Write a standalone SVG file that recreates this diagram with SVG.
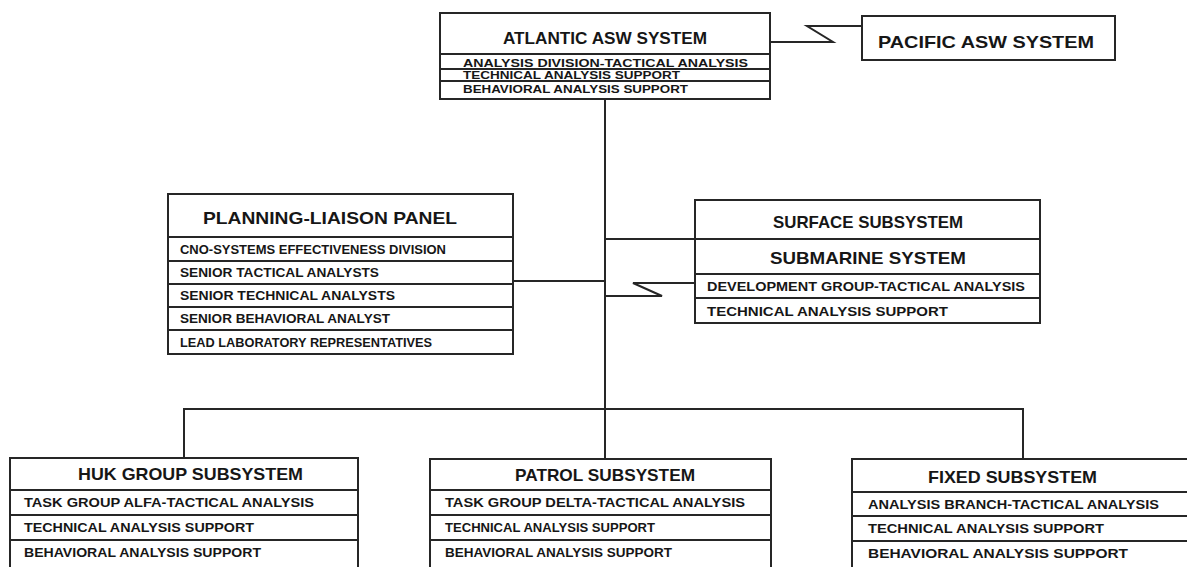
<svg xmlns="http://www.w3.org/2000/svg" width="1187" height="567" viewBox="0 0 1187 567">
  <style>
    .bg { fill: #ffffff; }
    .box { fill: none; stroke: #262626; stroke-width: 2; }
    .div { stroke: #262626; stroke-width: 2; }
    .wire { fill: none; stroke: #262626; stroke-width: 2; stroke-linejoin: miter; }
    .t { font-family: "Liberation Sans", Arial, sans-serif; font-weight: bold; fill: #161616; }
    .title { font-size: 17px; }
    .row { font-size: 12.5px; }
    .row-sm { font-size: 11.5px; }
  </style>

  <rect class="bg" x="0" y="0" width="1187" height="567"/>

  <!-- connectors -->
  <g id="connectors">
    <!-- Atlantic to Pacific, broken (lightning) link -->
    <polyline class="wire" points="770,42 833,42 807,26 862,26"/>
    <!-- main trunk -->
    <line class="wire" x1="605" y1="99" x2="605" y2="459"/>
    <!-- trunk to surface/submarine -->
    <line class="wire" x1="605" y1="239" x2="695" y2="239"/>
    <!-- planning panel to trunk -->
    <line class="wire" x1="513" y1="281" x2="605" y2="281"/>
    <!-- trunk to development group, broken link -->
    <polyline class="wire" points="605,296 662,296 633,283 695,283"/>
    <!-- subsystem bus -->
    <polyline class="wire" points="184,458 184,409 1023,409 1023,459"/>
  </g>

  <!-- Atlantic ASW System -->
  <g id="atlantic">
    <rect class="box" x="440" y="13" width="330" height="86"/>
    <line class="div" x1="440" y1="54" x2="770" y2="54"/>
    <line class="div" x1="440" y1="69" x2="770" y2="69"/>
    <line class="div" x1="440" y1="81" x2="770" y2="81"/>
    <text class="t title" x="503" y="44" textLength="204" lengthAdjust="spacingAndGlyphs">ATLANTIC ASW SYSTEM</text>
    <text class="t row-sm" x="463" y="67" textLength="285" lengthAdjust="spacingAndGlyphs">ANALYSIS DIVISION-TACTICAL ANALYSIS</text>
    <text class="t row-sm" x="463" y="79" textLength="217" lengthAdjust="spacingAndGlyphs">TECHNICAL ANALYSIS SUPPORT</text>
    <text class="t row-sm" x="463" y="93" textLength="225" lengthAdjust="spacingAndGlyphs">BEHAVIORAL ANALYSIS SUPPORT</text>
  </g>

  <!-- Pacific ASW System -->
  <g id="pacific">
    <rect class="box" x="862" y="16" width="253" height="44"/>
    <text class="t title" x="878" y="48" textLength="216" lengthAdjust="spacingAndGlyphs">PACIFIC ASW SYSTEM</text>
  </g>

  <!-- Planning-Liaison Panel -->
  <g id="planning">
    <rect class="box" x="168" y="194" width="345" height="160"/>
    <line class="div" x1="168" y1="237" x2="513" y2="237"/>
    <line class="div" x1="168" y1="261" x2="513" y2="261"/>
    <line class="div" x1="168" y1="284" x2="513" y2="284"/>
    <line class="div" x1="168" y1="307" x2="513" y2="307"/>
    <line class="div" x1="168" y1="330" x2="513" y2="330"/>
    <text class="t title" x="203" y="224" textLength="254" lengthAdjust="spacingAndGlyphs">PLANNING-LIAISON PANEL</text>
    <text class="t row" x="180" y="254" textLength="266" lengthAdjust="spacingAndGlyphs">CNO-SYSTEMS EFFECTIVENESS DIVISION</text>
    <text class="t row" x="180" y="277" textLength="199" lengthAdjust="spacingAndGlyphs">SENIOR TACTICAL ANALYSTS</text>
    <text class="t row" x="180" y="300" textLength="215" lengthAdjust="spacingAndGlyphs">SENIOR TECHNICAL ANALYSTS</text>
    <text class="t row" x="180" y="323" textLength="210" lengthAdjust="spacingAndGlyphs">SENIOR BEHAVIORAL ANALYST</text>
    <text class="t row" x="180" y="347" textLength="252" lengthAdjust="spacingAndGlyphs">LEAD LABORATORY REPRESENTATIVES</text>
  </g>

  <!-- Surface Subsystem / Submarine System -->
  <g id="surface">
    <rect class="box" x="695" y="200" width="345" height="123"/>
    <line class="div" x1="695" y1="239" x2="1040" y2="239"/>
    <line class="div" x1="695" y1="274" x2="1040" y2="274"/>
    <line class="div" x1="695" y1="298" x2="1040" y2="298"/>
    <text class="t title" x="773" y="228" textLength="190" lengthAdjust="spacingAndGlyphs">SURFACE SUBSYSTEM</text>
    <text class="t title" x="770" y="264" textLength="196" lengthAdjust="spacingAndGlyphs">SUBMARINE SYSTEM</text>
    <text class="t row" x="707" y="291" textLength="318" lengthAdjust="spacingAndGlyphs">DEVELOPMENT GROUP-TACTICAL ANALYSIS</text>
    <text class="t row" x="707" y="316" textLength="241" lengthAdjust="spacingAndGlyphs">TECHNICAL ANALYSIS SUPPORT</text>
  </g>

  <!-- HUK Group Subsystem -->
  <g id="huk">
    <rect class="box" x="10" y="458" width="348" height="120"/>
    <line class="div" x1="10" y1="490" x2="358" y2="490"/>
    <line class="div" x1="10" y1="515" x2="358" y2="515"/>
    <line class="div" x1="10" y1="540" x2="358" y2="540"/>
    <text class="t title" x="78" y="480" textLength="225" lengthAdjust="spacingAndGlyphs">HUK GROUP SUBSYSTEM</text>
    <text class="t row" x="24" y="507" textLength="290" lengthAdjust="spacingAndGlyphs">TASK GROUP ALFA-TACTICAL ANALYSIS</text>
    <text class="t row" x="24" y="532" textLength="230" lengthAdjust="spacingAndGlyphs">TECHNICAL ANALYSIS SUPPORT</text>
    <text class="t row" x="24" y="557" textLength="237" lengthAdjust="spacingAndGlyphs">BEHAVIORAL ANALYSIS SUPPORT</text>
  </g>

  <!-- Patrol Subsystem -->
  <g id="patrol">
    <rect class="box" x="430" y="459" width="341" height="120"/>
    <line class="div" x1="430" y1="490" x2="771" y2="490"/>
    <line class="div" x1="430" y1="515" x2="771" y2="515"/>
    <line class="div" x1="430" y1="540" x2="771" y2="540"/>
    <text class="t title" x="515" y="481" textLength="180" lengthAdjust="spacingAndGlyphs">PATROL SUBSYSTEM</text>
    <text class="t row" x="445" y="507" textLength="300" lengthAdjust="spacingAndGlyphs">TASK GROUP DELTA-TACTICAL ANALYSIS</text>
    <text class="t row" x="445" y="532" textLength="210" lengthAdjust="spacingAndGlyphs">TECHNICAL ANALYSIS SUPPORT</text>
    <text class="t row" x="445" y="557" textLength="227" lengthAdjust="spacingAndGlyphs">BEHAVIORAL ANALYSIS SUPPORT</text>
  </g>

  <!-- Fixed Subsystem -->
  <g id="fixed">
    <rect class="box" x="852" y="459" width="345" height="120"/>
    <line class="div" x1="852" y1="492" x2="1197" y2="492"/>
    <line class="div" x1="852" y1="516" x2="1197" y2="516"/>
    <line class="div" x1="852" y1="541" x2="1197" y2="541"/>
    <text class="t title" x="928" y="483" textLength="169" lengthAdjust="spacingAndGlyphs">FIXED SUBSYSTEM</text>
    <text class="t row" x="868" y="509" textLength="291" lengthAdjust="spacingAndGlyphs">ANALYSIS BRANCH-TACTICAL ANALYSIS</text>
    <text class="t row" x="868" y="533" textLength="236" lengthAdjust="spacingAndGlyphs">TECHNICAL ANALYSIS SUPPORT</text>
    <text class="t row" x="868" y="558" textLength="260" lengthAdjust="spacingAndGlyphs">BEHAVIORAL ANALYSIS SUPPORT</text>
  </g>
</svg>
